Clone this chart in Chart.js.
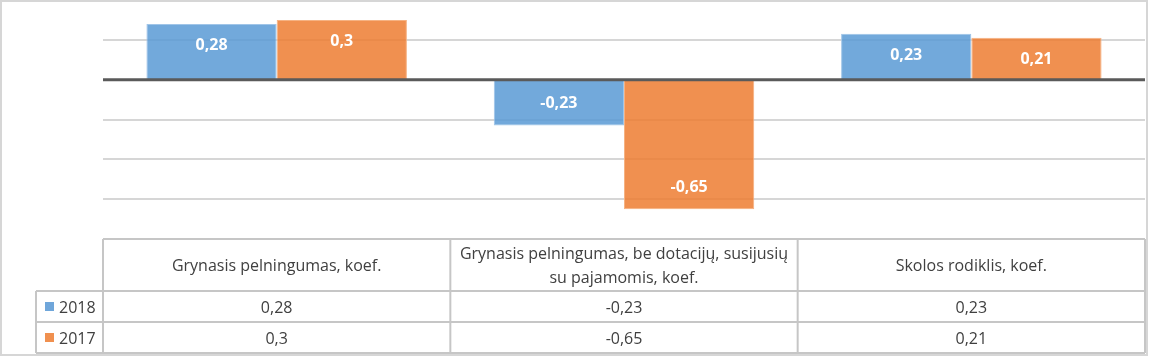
<!DOCTYPE html>
<html>
<head>
<meta charset="utf-8">
<script src="https://cdn.jsdelivr.net/npm/chart.js@4.4.1/dist/chart.umd.min.js"></script>
<style>
html,body{margin:0;padding:0;background:#fff;}
#wrap{position:relative;width:1150px;height:356px;overflow:hidden;background:#fff;}
#c{position:absolute;left:0;top:0;}
#frame{position:absolute;left:0;top:0;width:1144px;height:352px;border:2px solid #d6d6d6;pointer-events:none;}
.cell{position:absolute;display:flex;align-items:center;justify-content:center;text-align:center;
  font-family:"Open Sans",sans-serif;font-size:16px;color:#404040;white-space:nowrap;}
.hdr{line-height:24px;}
.leg{justify-content:flex-start;}
.sw{display:inline-block;width:9px;height:9px;margin-left:9px;margin-right:5px;}
</style>
</head>
<body>
<div id="wrap">
  <canvas id="c" width="1150" height="356"></canvas>
  <div id="cells"></div>
  <div id="frame"></div>
</div>
<script>
// ---- data ----
const categories = [
  ['Grynasis pelningumas, koef.'],
  ['Grynasis pelningumas, be dotacijų, susijusių', 'su pajamomis, koef.'],
  ['Skolos rodiklis, koef.']
];
const seriesNames = ['2018', '2017'];
const values2018 = [0.28, -0.23, 0.23];
const values2017 = [0.3, -0.65, 0.21];
const yMin = -0.8, yMax = 0.4, yStep = 0.2;

const fillColors = ['rgba(91,155,213,0.86)', 'rgba(237,125,49,0.85)'];
const edgeColors = ['rgba(160,197,232,1)', 'rgba(246,178,130,1)'];
const swatchColors = ['#6fa6da', '#f0904f'];

const fmt = v => String(v).replace('.', ',');

const labelPlugin = {
  id: 'labelsAndTable',
  afterDatasetsDraw(chart) {
    const ctx = chart.ctx;
    const ca = chart.chartArea;
    const ys = chart.scales.y;
    // zero line on top of bars
    const y0 = ys.getPixelForValue(0);
    ctx.save();
    ctx.strokeStyle = '#5a5a5a';
    ctx.lineWidth = 3;
    ctx.beginPath();
    ctx.moveTo(ca.left, y0);
    ctx.lineTo(ca.right, y0);
    ctx.stroke();
    // data labels (inside end)
    ctx.fillStyle = '#ffffff';
    ctx.font = 'bold 16px "Open Sans"';
    ctx.textAlign = 'center';
    ctx.textBaseline = 'middle';
    chart.data.datasets.forEach((ds, di) => {
      const meta = chart.getDatasetMeta(di);
      meta.data.forEach((el, i) => {
        const v = ds.data[i];
        const dir = el.y < el.base ? 1 : -1;
        ctx.fillText(fmt(v), el.x, el.y + dir * 22);
      });
    });
    ctx.restore();
  },
  afterDraw(chart) {
    const ctx = chart.ctx;
    const ca = chart.chartArea;
    const n = categories.length;
    const cw = (ca.right - ca.left) / n;
    const top = chart.scales.y.getPixelForValue(yMin);
    const r1 = top + 52, r2 = r1 + 31, r3 = r2 + 31;
    const legL = 36;
    ctx.save();
    ctx.strokeStyle = '#c6c6c6';
    ctx.lineWidth = 2;
    ctx.beginPath();
    ctx.moveTo(ca.left, top); ctx.lineTo(ca.right, top);
    [r1, r2, r3].forEach(y => { ctx.moveTo(legL, y); ctx.lineTo(ca.right, y); });
    ctx.moveTo(legL, r1); ctx.lineTo(legL, r3);
    for (let i = 0; i <= n; i++) {
      const x = ca.left + i * cw;
      ctx.moveTo(x, top); ctx.lineTo(x, r3);
    }
    ctx.stroke();
    ctx.restore();
  }
};

const chart = new Chart(document.getElementById('c'), {
  type: 'bar',
  data: {
    labels: categories,
    datasets: [
      { label: seriesNames[0], data: values2018, backgroundColor: fillColors[0], borderColor: edgeColors[0], borderWidth: 1 },
      { label: seriesNames[1], data: values2017, backgroundColor: fillColors[1], borderColor: edgeColors[1], borderWidth: 1 }
    ]
  },
  options: {
    responsive: false,
    animation: false,
    devicePixelRatio: 1,
    layout: { padding: { left: 103, right: 5, top: 0, bottom: 117 } },
    plugins: { legend: { display: false }, tooltip: { enabled: false } },
    datasets: { bar: { categoryPercentage: 0.75, barPercentage: 1.0 } },
    scales: {
      x: { display: false },
      y: {
        min: yMin, max: yMax,
        ticks: { display: false, stepSize: yStep },
        border: { display: false },
        grid: {
          drawTicks: false,
          lineWidth: 2,
          color: c => {
            const v = c.tick.value;
            if (Math.abs(v) < 1e-9 || v > yMax - 1e-6 || v < yMin + 1e-6) return 'rgba(0,0,0,0)';
            return '#d6d6d6';
          }
        },
        afterFit: s => { s.width = 0; }
      }
    }
  },
  plugins: [labelPlugin]
});

// ---- table text as HTML ----
(function buildCells() {
  const ca = chart.chartArea;
  const n = categories.length;
  const cw = (ca.right - ca.left) / n;
  const top = chart.scales.y.getPixelForValue(yMin);
  const rows = [top, top + 52, top + 83, top + 114];
  const holder = document.getElementById('cells');
  const add = (cls, left, t, w, h, html) => {
    const d = document.createElement('div');
    d.className = 'cell ' + cls;
    d.style.left = left + 'px'; d.style.top = t + 'px';
    d.style.width = w + 'px'; d.style.height = h + 'px';
    d.innerHTML = html;
    holder.appendChild(d);
  };
  categories.forEach((lines, i) => {
    add('hdr', ca.left + i * cw, rows[0], cw, rows[1] - rows[0], lines.join('<br>'));
  });
  const series = [values2018, values2017];
  series.forEach((vals, si) => {
    add('leg', 36, rows[si + 1], ca.left - 36, rows[si + 2] - rows[si + 1],
      '<span class="sw" style="background:' + swatchColors[si] + '"></span>' + seriesNames[si]);
    vals.forEach((v, i) => {
      add('', ca.left + i * cw, rows[si + 1], cw, rows[si + 2] - rows[si + 1], fmt(v));
    });
  });
})();
</script>
</body>
</html>
